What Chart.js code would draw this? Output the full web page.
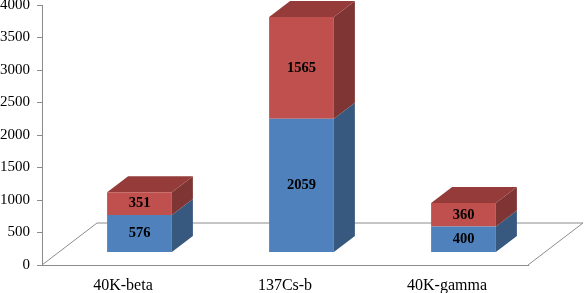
<!DOCTYPE html>
<html>
<head>
<meta charset="utf-8">
<title>Stacked 3D bars</title>
<script src="https://cdn.jsdelivr.net/npm/chart.js@4/dist/chart.umd.min.js"></script>
<style>
    html, body { margin: 0; padding: 0; background: #fff; overflow: hidden; }
    canvas { display: block; }
</style>
</head>
<body>
<canvas id="chart" width="585" height="293"></canvas>
<script>
// Chart data
const categories = ['40K-beta', '137Cs-b', '40K-gamma'];
const lowerValues = [576, 2059, 400];
const upperValues = [351, 1565, 360];
const yTicks = [0, 500, 1000, 1500, 2000, 2500, 3000, 3500, 4000];

// Fake 3D look, in pixels
const floorDepth = { x: 55, y: 42 };
const barDepth = { x: 21, y: 16 };
const barShift = { x: 16.5, y: -12.5 };
const faces = [
    { side: '#37587f', top: null },
    { side: '#7e3533', top: '#953b39' }
];

const fake3d = {
    id: 'fake3d',
    beforeDatasetsDraw(chart) {
        const ctx = chart.ctx;
        const area = chart.chartArea;

        // Floor outline behind the bars
        ctx.save();
        ctx.strokeStyle = '#8c8c8c';
        ctx.lineWidth = 1;
        ctx.beginPath();
        ctx.moveTo(area.left, area.bottom);
        ctx.lineTo(area.left + floorDepth.x, area.bottom - floorDepth.y);
        ctx.lineTo(area.right + floorDepth.x, area.bottom - floorDepth.y);
        ctx.lineTo(area.right, area.bottom);
        ctx.stroke();
        ctx.restore();

        // Bars sit in the middle of the floor, so shift everything until afterDatasetsDraw
        ctx.save();
        ctx.translate(barShift.x, barShift.y);

        chart.data.datasets.forEach((ds, i) => {
            chart.getDatasetMeta(i).data.forEach(bar => {
                const right = bar.x + bar.width / 2;
                ctx.fillStyle = faces[i].side;
                ctx.beginPath();
                ctx.moveTo(right, bar.y);
                ctx.lineTo(right + barDepth.x, bar.y - barDepth.y);
                ctx.lineTo(right + barDepth.x, bar.base - barDepth.y);
                ctx.lineTo(right, bar.base);
                ctx.closePath();
                ctx.fill();

                if (faces[i].top) {
                    const left = bar.x - bar.width / 2;
                    ctx.fillStyle = faces[i].top;
                    ctx.beginPath();
                    ctx.moveTo(left, bar.y);
                    ctx.lineTo(left + barDepth.x, bar.y - barDepth.y);
                    ctx.lineTo(right + barDepth.x, bar.y - barDepth.y);
                    ctx.lineTo(right, bar.y);
                    ctx.closePath();
                    ctx.fill();
                }
            });
        });
    },
    afterDatasetsDraw(chart) {
        const ctx = chart.ctx;

        // Value labels in the middle of each segment
        ctx.fillStyle = '#000';
        ctx.font = 'bold 14.5px "Liberation Serif"';
        ctx.textAlign = 'center';
        ctx.textBaseline = 'middle';
        chart.data.datasets.forEach((ds, i) => {
            chart.getDatasetMeta(i).data.forEach((bar, j) => {
                ctx.fillText(ds.data[j], bar.x, (bar.y + bar.base) / 2);
            });
        });

        ctx.restore();
    }
};

new Chart(document.getElementById('chart').getContext('2d'), {
    type: 'bar',
    data: {
        labels: categories,
        datasets: [
            { data: lowerValues, backgroundColor: '#4f81bd', clip: false },
            { data: upperValues, backgroundColor: '#c0504d', clip: false }
        ]
    },
    options: {
        responsive: false,
        animation: false,
        barPercentage: 0.4,
        categoryPercentage: 1,
        layout: { padding: { top: 5, right: 57 } },
        plugins: {
            legend: { display: false },
            tooltip: { enabled: false }
        },
        scales: {
            x: {
                stacked: true,
                grid: { display: false },
                border: { color: '#8c8c8c' },
                ticks: {
                    color: '#000',
                    padding: 3,
                    maxRotation: 0,
                    font: { family: '"Liberation Serif"', size: 16 }
                },
                afterFit(scale) {
                    scale.height = 28;
                    scale.paddingLeft = 0;
                    scale.paddingRight = 0;
                }
            },
            y: {
                stacked: true,
                min: 0,
                max: 4000,
                afterBuildTicks(scale) { scale.ticks = yTicks.map(v => ({ value: v })); },
                grid: { drawOnChartArea: false, tickLength: 5, color: '#8c8c8c' },
                border: { color: '#8c8c8c' },
                ticks: {
                    color: '#000',
                    padding: 7,
                    font: { family: '"Liberation Serif"', size: 15 },
                    callback: v => String(v)
                },
                afterFit(scale) {
                    scale.width = 42;
                    scale.paddingTop = 0;
                    scale.paddingBottom = 0;
                }
            }
        }
    },
    plugins: [fake3d]
});
</script>
</body>
</html>
